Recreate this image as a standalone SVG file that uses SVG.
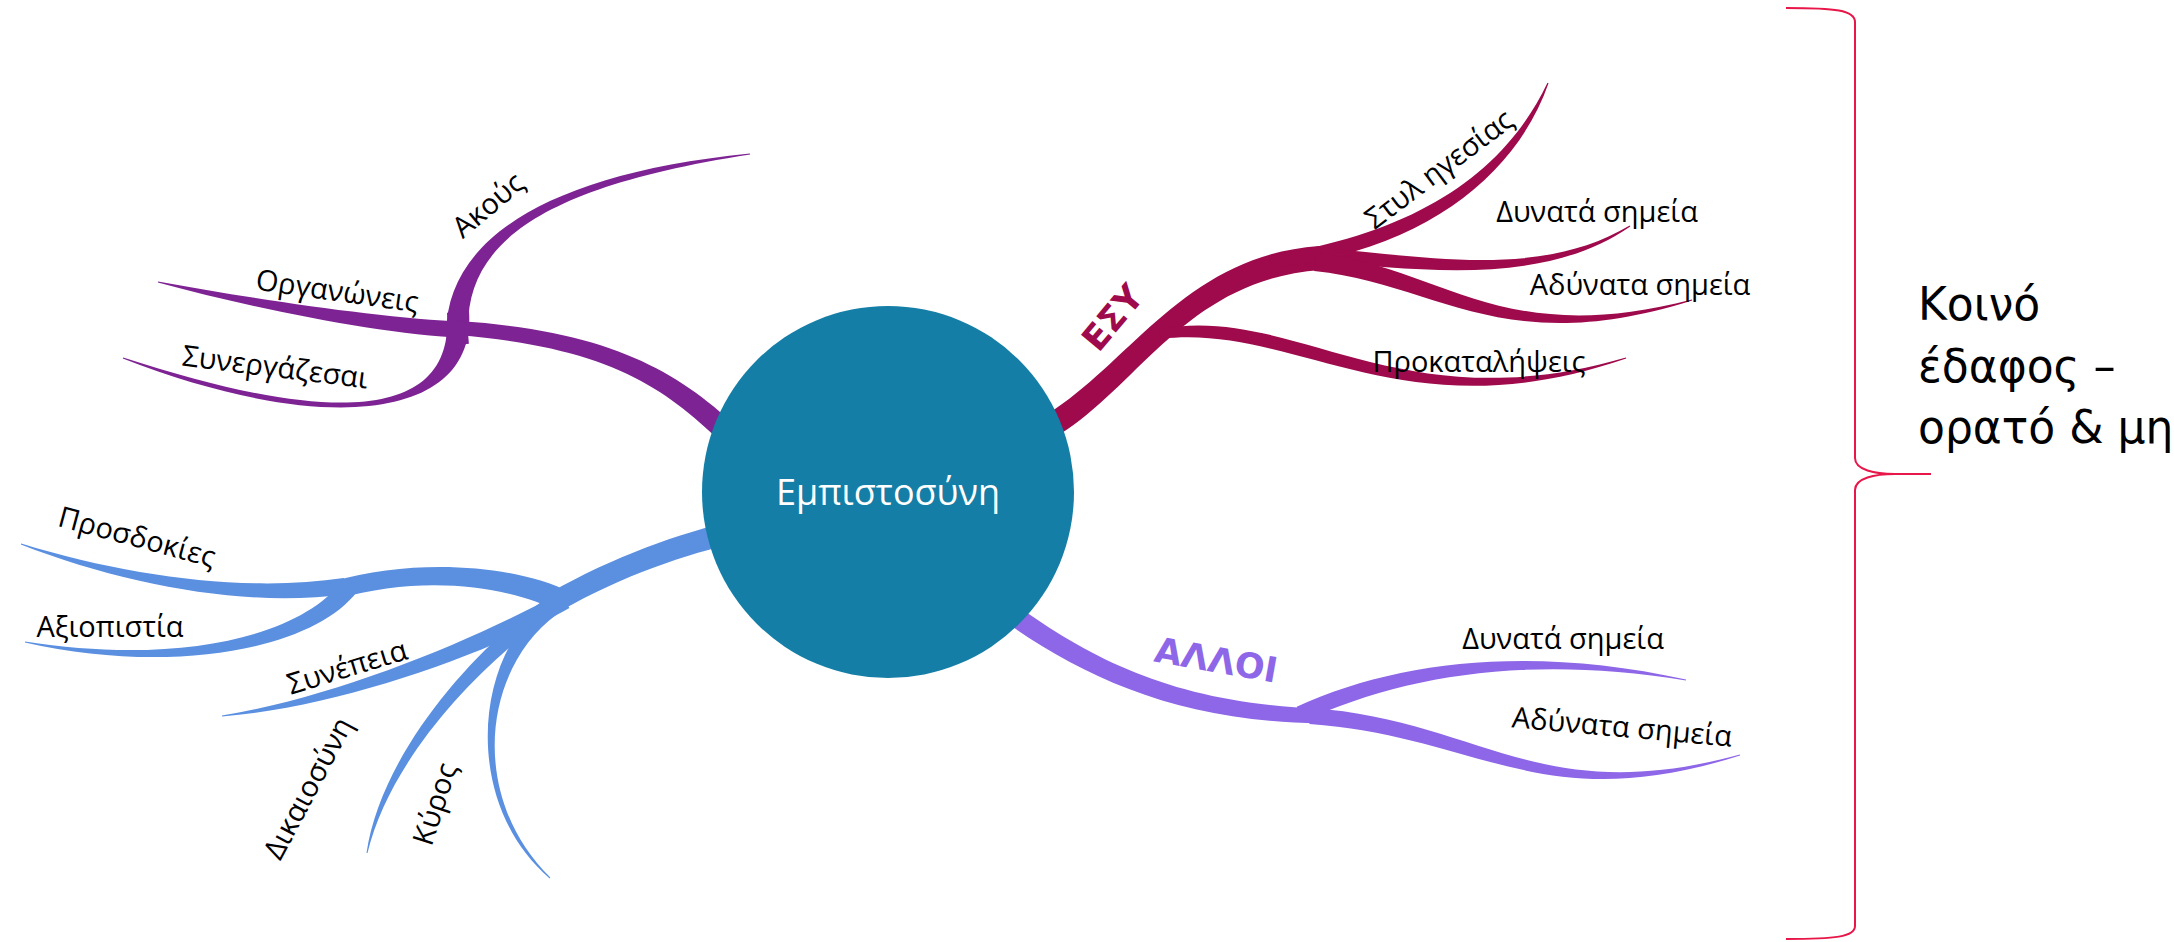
<svg xmlns="http://www.w3.org/2000/svg" width="2174" height="942" viewBox="0 0 2174 942">
<style>
.lbl{font-family:"Open Sans","Noto Sans",sans-serif;font-size:29px;fill:#000;text-anchor:middle}
.big{font-family:"DejaVu Sans",sans-serif;font-weight:bold;font-size:35px;text-anchor:middle}
.p{fill:#7E2393}
.b{fill:#5B90E1}
.c{fill:#9E0A4B}
.l{fill:#8E67E8}
</style>
<rect width="2174" height="942" fill="#fff"/>
<g id="connectors">
<path class="p" d="M752.8,442.2 C687.8,377.2 620.6,331.5 458.5,321 L457.5,335 C619.4,348.5 672.2,392.8 737.2,457.8 Z"/>
<path class="p" d="M468.9,343.8 C458.9,248.8 530.8,188.5 750.1,154.5 L749.9,153.5 C529.2,175.5 437.1,251.2 447.1,346.2 Z"/>
<path class="p" d="M447,312.8 C455,420.8 332.2,425.8 123.2,357.5 L122.8,358.5 C327.8,438.2 477,419.2 469,311.2 Z"/>
<path class="p" d="M465.4,322 C380.4,318 261.1,300.3 158.1,281.5 L157.9,282.5 C258.9,309.7 379.6,334 464.6,338 Z"/>
<path class="b" d="M737.3,519.3 C677.3,534.3 614.8,555.9 549.8,592.9 L560.2,611.1 C625.2,574.1 682.7,555.7 742.7,540.7 Z"/>
<path class="b" d="M569.9,592.1 C514.9,565.1 417.6,557.3 332.6,581.3 L337.5,598.7 C422.5,574.7 505.2,584.9 560.2,611.9 Z"/>
<path class="b" d="M343.8,578.1 C248.8,592.1 131.6,577.5 21.2,543.5 L20.8,544.5 C128.4,586.5 251.2,607.9 346.2,593.9 Z"/>
<path class="b" d="M342.8,580.5 C297.8,639.5 171,664.7 25.1,641.5 L24.9,642.5 C169,675.3 312.2,650.5 357.2,591.5 Z"/>
<path class="b" d="M560.6,592.2 C480.6,637.2 339.4,696.6 221.9,715.5 L222.1,716.5 C340.6,707.4 489.4,652.9 569.4,607.9 Z"/>
<path class="b" d="M547.4,597.5 C465.4,655.5 380.3,759.1 366.5,852.9 L367.5,853.1 C389.7,760.9 474.6,668.5 556.6,610.5 Z"/>
<path class="b" d="M547.3,601.5 C473.3,655.5 461.8,803.5 549.7,878.4 L550.3,877.6 C468.2,796.5 482.7,668.5 556.7,614.5 Z"/>
<path class="c" d="M1045.6,442.6 C1135.6,395.6 1180.9,280 1320.9,270 L1319.1,246 C1179.1,256 1124.4,374.4 1034.4,421.4 Z"/>
<path class="c" d="M1270.5,268 C1420.8,252 1515.5,177.3 1548.5,83.2 L1547.5,82.8 C1504.5,172.7 1419.2,232 1269.5,256 Z"/>
<path class="c" d="M1319.5,262 C1419.5,269 1542.3,287.5 1630.3,226.4 L1629.7,225.6 C1537.7,280.5 1420.5,255 1320.5,248 Z"/>
<path class="c" d="M1314.1,271 C1439.1,284 1501.5,360.2 1692.1,300.5 L1691.9,299.5 C1498.5,349.8 1440.9,266 1315.9,253 Z"/>
<path class="c" d="M1160.8,338.9 C1296.5,322.9 1401.8,435.7 1626.2,358.5 L1625.9,357.5 C1398.2,424.3 1293.5,303.1 1159.2,329.1 Z"/>
<path class="l" d="M989,610 C1074,673 1169.8,721 1319.8,723.5 L1320.2,708.5 C1170.2,703 1086,657 1001,594 Z"/>
<path class="l" d="M1303.3,721.3 C1403.3,675.3 1529.1,654.7 1685.9,680.5 L1686.1,679.5 C1530.9,645.3 1396.7,660.7 1296.7,706.7 Z"/>
<path class="l" d="M1309.4,724 C1479.4,736 1541.4,818.6 1740.1,755.5 L1739.9,754.5 C1538.6,809.4 1480.6,720 1310.6,708 Z"/>
<path d="M1786,8 C1835,8 1855,10 1855,22 L1855,458 C1855,470 1875,474 1895,474 L1931,474 L1895,474 C1875,474 1855,478 1855,490 L1855,926 C1855,937 1835,939 1786,939" fill="none" stroke="#E8174A" stroke-width="2"/>
</g>
<g id="center">
<circle cx="888" cy="492" r="186" fill="#147EA6"/>
<text x="888" y="505" font-family="Open Sans, Noto Sans, sans-serif" font-size="36" fill="#fff" text-anchor="middle">Εμπιστοσύνη</text>
</g>
<g id="n-akous"><text class="lbl" x="488" y="215" transform="rotate(-40 488 205)">Ακούς</text></g>
<g id="n-organoneis"><text class="lbl" x="336" y="301" transform="rotate(8 336 301)">Οργανώνεις</text></g>
<g id="n-synergazesai"><text class="lbl" x="274" y="377" transform="rotate(7 274 377)">Συνεργάζεσαι</text></g>
<g id="n-prosdokies"><text class="lbl" x="137" y="547" transform="rotate(15 137 537)">Προσδοκίες</text></g>
<g id="n-axiopistia"><text class="lbl" x="110" y="637">Αξιοπιστία</text></g>
<g id="n-synepeia"><text class="lbl" x="347" y="677" transform="rotate(-17 347 667)">Συνέπεια</text></g>
<g id="n-dikaiosyni"><text class="lbl" x="308" y="798" transform="rotate(-62 308 788)">Δικαιοσύνη</text></g>
<g id="n-kyros"><text class="lbl" x="435" y="814" transform="rotate(-72 435 804)">Κύρος</text></g>
<g id="n-esy"><text class="big" fill="#9E0A4B" x="1112" y="330" transform="rotate(-50 1112 317)">ΕΣΥ</text></g>
<g id="n-styl"><text class="lbl" x="1439" y="179" transform="rotate(-37 1439 169)">Στυλ ηγεσίας</text></g>
<g id="n-esy-dynata"><text class="lbl" x="1597" y="222">Δυνατά σημεία</text></g>
<g id="n-esy-adynata"><text class="lbl" x="1640" y="295">Αδύνατα σημεία</text></g>
<g id="n-prokatalipseis"><text class="lbl" x="1479" y="372">Προκαταλήψεις</text></g>
<g id="n-alloi"><text class="big" fill="#8E67E8" x="1214" y="672" transform="rotate(10 1214 672)">ΑΛΛΟΙ</text></g>
<g id="n-alloi-dynata"><text class="lbl" x="1563" y="649">Δυνατά σημεία</text></g>
<g id="n-alloi-adynata"><text class="lbl" x="1622" y="737" transform="rotate(5 1622 727)">Αδύνατα σημεία</text></g>
<g id="n-koino"><text font-family="DejaVu Sans, sans-serif" font-size="47" fill="#000" transform="translate(1918,0) scale(0.936,1)"><tspan x="0" y="320">Κοινό</tspan><tspan x="0" y="382">έδαφος –</tspan><tspan x="0" y="443">ορατό &amp; μη</tspan></text></g>
</svg>
